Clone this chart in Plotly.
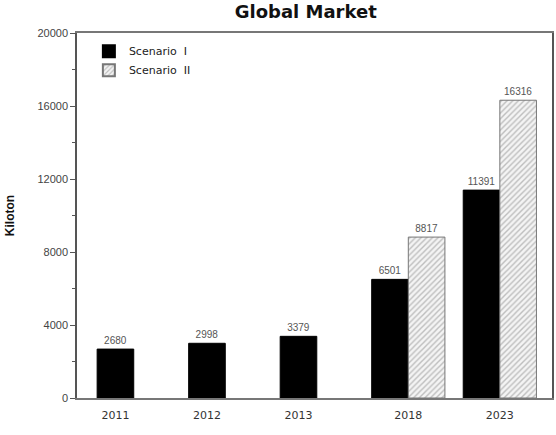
import plotly.graph_objects as go

years = ["2011", "2012", "2013", "2018", "2023"]
x_pos = [0, 1, 2, 3.2, 4.2]
scenario1 = [2680, 2998, 3379, 6501, 11391]
scenario2 = [None, None, None, 8817, 16316]
w = 0.40
off1 = [-w / 2 if v is None else -w for v in scenario2]
off2 = [0 for _ in scenario2]

fig = go.Figure()
fig.add_trace(go.Bar(
    x=x_pos, y=scenario1, name="Scenario\u00a0\u00a0I", width=w, offset=off1,
    marker=dict(color="black", line=dict(color="black", width=1)),
    text=[str(v) for v in scenario1], textposition="outside",
    textfont=dict(size=10, color="#555", family="Liberation Sans"),
    cliponaxis=False,
))
fig.add_trace(go.Bar(
    x=x_pos, y=scenario2, name="Scenario\u00a0\u00a0II", width=w, offset=off2,
    marker=dict(color="white", line=dict(color="#777", width=1),
                pattern=dict(shape="/", fgcolor="#888", bgcolor="#f4f4f4", size=4, solidity=0.35)),
    text=["" if v is None else str(v) for v in scenario2], textposition="outside",
    textfont=dict(size=10, color="#555", family="Liberation Sans"),
    cliponaxis=False,
))

fig.update_layout(
    width=556, height=435,
    margin=dict(l=77, r=2, t=33, b=37),
    paper_bgcolor="white", plot_bgcolor="white",
    barmode="overlay",
    title=dict(text="<b>Global Market</b>", x=0.55, xanchor="center", y=0.972, yanchor="middle",
               font=dict(family="DejaVu Sans", size=18, color="#111")),
    showlegend=True,
    legend=dict(x=0.025, y=0.99, xanchor="left", yanchor="top", bgcolor="rgba(0,0,0,0)",
                font=dict(family="DejaVu Sans", size=11, color="#222"), tracegroupgap=0,
                itemsizing="constant"),
    xaxis=dict(
        range=[-0.42, 4.77], tickvals=x_pos, ticktext=years, showgrid=False, zeroline=False,
        showline=True, linecolor="#777", linewidth=2, mirror=True, ticks="", ticklabelstandoff=6,
        tickfont=dict(family="DejaVu Sans", size=11, color="#333"),
    ),
    yaxis=dict(
        range=[0, 20000], tickvals=[0, 4000, 8000, 12000, 16000, 20000], tickformat="d",
        showgrid=False, zeroline=False,
        showline=True, linecolor="#555", linewidth=1.5, mirror=True, ticks="outside", ticklen=5,
        tickcolor="#555",
        minor=dict(tickvals=[2000, 6000, 10000, 14000, 18000], ticks="outside", ticklen=3, tickcolor="#555"),
        tickfont=dict(family="Liberation Sans", size=11, color="#444"),
        title=dict(text="<b>Kiloton</b>", font=dict(family="Liberation Sans", size=12, color="#111"), standoff=20),
    ),
)

fig.write_html("out.html")
